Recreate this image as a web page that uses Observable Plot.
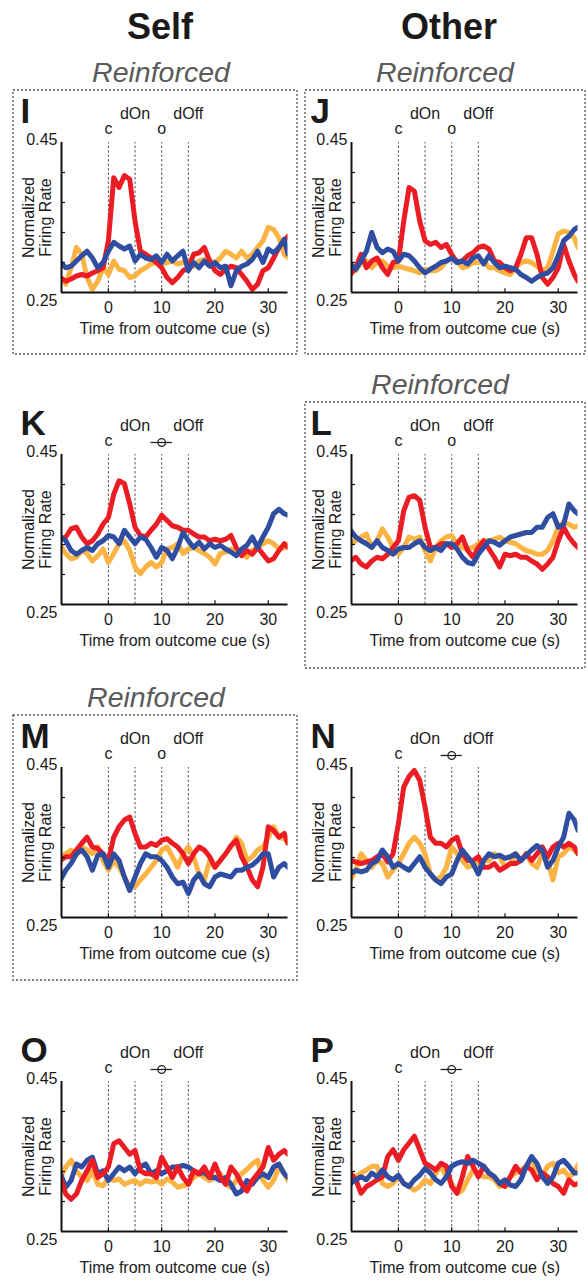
<!DOCTYPE html>
<html><head><meta charset="utf-8">
<script src="https://cdn.jsdelivr.net/npm/d3@7"></script>
<script src="https://cdn.jsdelivr.net/npm/@observablehq/plot@0.6"></script>
<style>
html,body{margin:0;padding:0;background:#fff;}
#page{position:relative;width:588px;height:1281px;overflow:hidden;font-family:"Liberation Sans",Arial,sans-serif;}
#page svg{position:absolute;}
</style></head><body><div id="page"></div><script>
// time axis (s from outcome cue)
const T = [-9,-8,-7,-6,-5,-4,-3,-2,-1,0,1,2,3,4,5,6,7,8,9,10,11,12,13,14,15,16,17,18,19,20,21,22,23,24,25,26,27,28,29,30,31,32,33,33.7];
const xTicks = [0,10,20,30];
const yTickMarks = [0.29,0.33,0.37,0.41];
const yLabelTop = 0.45, yLabelBottom = 0.25;
const eventTimes = [0,5,10,15];
const eventLow = [{t:0,label:"c"},{t:10,label:"o"}];
const eventHigh = [{t:5,label:"dOn"},{t:15,label:"dOff"}];
const xTitle = "Time from outcome cue (s)";
const yTitle = ["Normalized","Firing Rate"];
const columns = ["Self","Other"];
const colors = {red:"#ec1c24", orange:"#fbb443", blue:"#2f4ea1"};

// Panel I (Self, reinforced)
const I_red = [0.270,0.265,0.268,0.272,0.274,0.272,0.276,0.279,0.283,0.319,0.403,0.390,0.406,0.401,0.345,0.305,0.301,0.296,0.290,0.283,0.270,0.263,0.270,0.279,0.283,0.301,0.303,0.310,0.292,0.279,0.274,0.281,0.285,0.283,0.274,0.265,0.254,0.261,0.279,0.283,0.296,0.310,0.319,0.325];
const I_orange = [0.270,0.261,0.283,0.310,0.301,0.270,0.254,0.265,0.283,0.274,0.292,0.281,0.279,0.270,0.272,0.279,0.283,0.288,0.290,0.288,0.290,0.292,0.288,0.290,0.292,0.285,0.292,0.294,0.292,0.290,0.296,0.305,0.301,0.296,0.305,0.296,0.301,0.310,0.319,0.337,0.334,0.323,0.301,0.296];
const I_blue = [0.290,0.283,0.285,0.292,0.299,0.305,0.296,0.283,0.290,0.305,0.317,0.312,0.308,0.312,0.292,0.301,0.296,0.294,0.299,0.290,0.301,0.292,0.299,0.305,0.279,0.290,0.283,0.292,0.285,0.290,0.283,0.285,0.259,0.279,0.285,0.288,0.294,0.305,0.290,0.308,0.303,0.310,0.321,0.301];
// Panel J (Other, reinforced)
const J_red = [0.274,0.283,0.301,0.283,0.292,0.296,0.283,0.274,0.290,0.292,0.345,0.390,0.385,0.345,0.319,0.314,0.317,0.310,0.314,0.301,0.290,0.292,0.299,0.303,0.310,0.312,0.308,0.292,0.290,0.283,0.279,0.283,0.301,0.323,0.323,0.301,0.270,0.261,0.270,0.283,0.314,0.292,0.274,0.265];
const J_orange = [0.283,0.279,0.290,0.292,0.283,0.290,0.292,0.285,0.283,0.285,0.283,0.281,0.279,0.276,0.281,0.279,0.279,0.283,0.292,0.296,0.292,0.283,0.285,0.290,0.290,0.292,0.283,0.283,0.279,0.276,0.274,0.283,0.290,0.292,0.290,0.285,0.279,0.283,0.305,0.328,0.332,0.330,0.323,0.310];
const J_blue = [0.288,0.281,0.292,0.305,0.330,0.310,0.303,0.308,0.305,0.292,0.301,0.299,0.292,0.283,0.276,0.281,0.285,0.290,0.292,0.296,0.290,0.292,0.288,0.296,0.299,0.288,0.299,0.290,0.283,0.285,0.283,0.281,0.274,0.270,0.265,0.270,0.274,0.276,0.283,0.299,0.319,0.325,0.334,0.337];
// Panel K
const K_red = [0.337,0.340,0.351,0.353,0.340,0.331,0.335,0.344,0.357,0.366,0.397,0.415,0.411,0.384,0.353,0.342,0.340,0.349,0.357,0.369,0.362,0.355,0.353,0.349,0.349,0.344,0.340,0.340,0.335,0.337,0.335,0.337,0.342,0.326,0.315,0.322,0.317,0.326,0.317,0.308,0.311,0.322,0.331,0.326];
const K_orange = [0.329,0.318,0.311,0.313,0.322,0.318,0.308,0.315,0.324,0.306,0.318,0.331,0.335,0.322,0.300,0.291,0.300,0.306,0.300,0.306,0.324,0.326,0.331,0.318,0.324,0.326,0.322,0.318,0.313,0.304,0.318,0.320,0.324,0.322,0.318,0.313,0.322,0.326,0.331,0.335,0.331,0.324,0.326,0.331];
const K_blue = [0.340,0.335,0.322,0.317,0.322,0.326,0.322,0.331,0.335,0.342,0.340,0.331,0.349,0.340,0.331,0.340,0.337,0.326,0.313,0.326,0.322,0.311,0.326,0.346,0.335,0.326,0.333,0.324,0.331,0.326,0.329,0.324,0.320,0.315,0.324,0.329,0.340,0.326,0.340,0.353,0.371,0.377,0.371,0.369];
// Panel L
const L_red = [0.308,0.313,0.304,0.300,0.308,0.313,0.311,0.317,0.326,0.335,0.375,0.393,0.395,0.389,0.353,0.326,0.326,0.331,0.331,0.326,0.331,0.340,0.322,0.313,0.326,0.335,0.324,0.313,0.300,0.317,0.315,0.317,0.313,0.313,0.308,0.304,0.297,0.304,0.313,0.335,0.353,0.340,0.331,0.326];
const L_orange = [0.331,0.335,0.340,0.344,0.326,0.335,0.351,0.340,0.326,0.317,0.326,0.340,0.337,0.340,0.322,0.308,0.326,0.335,0.340,0.342,0.331,0.326,0.324,0.326,0.331,0.335,0.335,0.337,0.340,0.335,0.333,0.331,0.326,0.322,0.320,0.317,0.317,0.322,0.335,0.353,0.360,0.357,0.353,0.355];
const L_blue = [0.349,0.340,0.335,0.331,0.326,0.335,0.326,0.322,0.317,0.324,0.326,0.326,0.331,0.335,0.326,0.322,0.326,0.322,0.331,0.331,0.324,0.313,0.306,0.304,0.317,0.326,0.335,0.333,0.329,0.335,0.340,0.342,0.344,0.346,0.346,0.353,0.353,0.366,0.371,0.353,0.357,0.384,0.375,0.371];
// Panel M
const M_red = [0.326,0.331,0.331,0.340,0.349,0.357,0.344,0.342,0.335,0.326,0.357,0.371,0.380,0.384,0.362,0.344,0.344,0.349,0.346,0.353,0.355,0.349,0.344,0.335,0.322,0.335,0.344,0.340,0.331,0.317,0.326,0.335,0.346,0.353,0.331,0.317,0.300,0.291,0.317,0.371,0.366,0.357,0.362,0.349];
const M_orange = [0.331,0.335,0.340,0.333,0.344,0.340,0.335,0.344,0.326,0.313,0.326,0.317,0.304,0.291,0.291,0.300,0.308,0.317,0.326,0.340,0.344,0.331,0.317,0.335,0.344,0.331,0.308,0.300,0.326,0.317,0.326,0.335,0.344,0.357,0.349,0.326,0.331,0.340,0.344,0.357,0.371,0.357,0.355,0.349];
const M_blue = [0.300,0.313,0.322,0.335,0.340,0.331,0.313,0.333,0.335,0.317,0.335,0.326,0.304,0.286,0.304,0.322,0.335,0.331,0.331,0.326,0.317,0.304,0.295,0.297,0.282,0.300,0.308,0.295,0.291,0.304,0.308,0.306,0.304,0.313,0.313,0.317,0.320,0.326,0.335,0.335,0.304,0.317,0.322,0.317];
// Panel N
const N_red = [0.326,0.324,0.322,0.324,0.326,0.331,0.335,0.324,0.335,0.375,0.424,0.438,0.446,0.433,0.397,0.357,0.349,0.349,0.344,0.353,0.357,0.335,0.326,0.326,0.331,0.317,0.317,0.322,0.313,0.317,0.322,0.322,0.326,0.335,0.326,0.335,0.344,0.331,0.344,0.349,0.344,0.349,0.344,0.335];
const N_orange = [0.300,0.313,0.335,0.326,0.317,0.326,0.322,0.304,0.313,0.322,0.335,0.349,0.357,0.349,0.335,0.308,0.300,0.304,0.317,0.344,0.335,0.326,0.317,0.320,0.324,0.326,0.326,0.335,0.331,0.317,0.322,0.335,0.326,0.335,0.322,0.317,0.335,0.326,0.300,0.331,0.335,0.344,0.340,0.335];
const N_blue = [0.308,0.313,0.311,0.313,0.322,0.326,0.340,0.331,0.317,0.322,0.317,0.313,0.322,0.331,0.317,0.308,0.300,0.295,0.304,0.308,0.326,0.340,0.331,0.322,0.308,0.326,0.335,0.331,0.333,0.329,0.331,0.335,0.326,0.333,0.340,0.346,0.340,0.317,0.326,0.344,0.357,0.389,0.380,0.366];
// Panel O
const O_red = [0.322,0.300,0.293,0.300,0.318,0.331,0.345,0.322,0.327,0.336,0.367,0.371,0.362,0.353,0.358,0.331,0.327,0.327,0.322,0.349,0.336,0.322,0.336,0.322,0.313,0.331,0.327,0.336,0.322,0.340,0.322,0.313,0.336,0.327,0.313,0.304,0.318,0.327,0.336,0.362,0.345,0.353,0.358,0.353];
const O_orange = [0.322,0.336,0.345,0.331,0.322,0.318,0.331,0.313,0.311,0.322,0.318,0.320,0.313,0.316,0.318,0.313,0.318,0.316,0.318,0.313,0.320,0.316,0.309,0.311,0.313,0.322,0.327,0.322,0.318,0.322,0.327,0.313,0.309,0.318,0.327,0.333,0.340,0.345,0.318,0.309,0.318,0.336,0.327,0.318];
const O_blue = [0.327,0.309,0.318,0.340,0.336,0.345,0.349,0.327,0.331,0.318,0.327,0.336,0.331,0.336,0.327,0.336,0.340,0.327,0.331,0.327,0.331,0.336,0.336,0.338,0.336,0.331,0.327,0.329,0.322,0.322,0.318,0.322,0.313,0.300,0.304,0.318,0.313,0.322,0.327,0.322,0.336,0.340,0.327,0.322];
// Panel P
const P_red = [0.328,0.319,0.301,0.310,0.314,0.319,0.323,0.350,0.359,0.345,0.359,0.368,0.377,0.359,0.341,0.337,0.332,0.341,0.337,0.310,0.301,0.323,0.350,0.337,0.323,0.337,0.328,0.323,0.314,0.310,0.323,0.337,0.328,0.337,0.332,0.319,0.328,0.323,0.314,0.310,0.301,0.319,0.312,0.314];
const P_orange = [0.314,0.323,0.328,0.332,0.337,0.337,0.314,0.310,0.314,0.323,0.314,0.310,0.305,0.310,0.319,0.314,0.328,0.337,0.323,0.314,0.301,0.305,0.319,0.332,0.328,0.323,0.323,0.319,0.310,0.314,0.323,0.328,0.332,0.337,0.345,0.332,0.323,0.337,0.341,0.328,0.332,0.323,0.328,0.339];
const P_blue = [0.314,0.319,0.323,0.319,0.328,0.323,0.332,0.323,0.319,0.325,0.314,0.310,0.319,0.325,0.334,0.328,0.319,0.314,0.323,0.337,0.341,0.343,0.341,0.345,0.341,0.337,0.328,0.323,0.314,0.319,0.312,0.310,0.319,0.337,0.350,0.341,0.323,0.314,0.323,0.341,0.345,0.337,0.328,0.328];

const panels = [
  {letter:"I", col:0, row:0, outcome:"text", red:I_red, orange:I_orange, blue:I_blue, order:["orange","red","blue"]},
  {letter:"J", col:1, row:0, outcome:"text", red:J_red, orange:J_orange, blue:J_blue, order:["orange","red","blue"]},
  {letter:"K", col:0, row:1, outcome:"bar", red:K_red, orange:K_orange, blue:K_blue, order:["orange","red","blue"]},
  {letter:"L", col:1, row:1, outcome:"text", red:L_red, orange:L_orange, blue:L_blue, order:["orange","red","blue"]},
  {letter:"M", col:0, row:2, outcome:"text", red:M_red, orange:M_orange, blue:M_blue, order:["orange","red","blue"]},
  {letter:"N", col:1, row:2, outcome:"bar", red:N_red, orange:N_orange, blue:N_blue, order:["orange","red","blue"]},
  {letter:"O", col:0, row:3, outcome:"bar", red:O_red, orange:O_orange, blue:O_blue, order:["orange","blue","red"]},
  {letter:"P", col:1, row:3, outcome:"bar", red:P_red, orange:P_orange, blue:P_blue, order:["orange","red","blue"]}
];
// "Reinforced" boxes
const reinforced = [
  {x0:13,y0:90,x1:297,y1:354,tx:161,ty:82},
  {x0:305,y0:90,x1:585,y1:354,tx:445,ty:82},
  {x0:305,y0:402,x1:585,y1:668,tx:440,ty:394},
  {x0:13,y0:715,x1:297,y1:980,tx:156,ty:707}
];

const page = document.getElementById("page");
const FONT = "'Liberation Sans', Arial, sans-serif";

const ns = "http://www.w3.org/2000/svg";
const ov = document.createElementNS(ns,"svg");
ov.setAttribute("width",588); ov.setAttribute("height",1281);
ov.style.left="0px"; ov.style.top="0px";
function addText(x,y,txt,attrs){const t=document.createElementNS(ns,"text");t.setAttribute("x",x);t.setAttribute("y",y);t.setAttribute("text-anchor","middle");for(const k in attrs)t.setAttribute(k,attrs[k]);t.textContent=txt;ov.appendChild(t);}
addText(160,39,columns[0],{"font-family":FONT,"font-size":36,"font-weight":"bold",fill:"#1a1a1a"});
addText(449,39,columns[1],{"font-family":FONT,"font-size":36,"font-weight":"bold",fill:"#1a1a1a"});
for(const r of reinforced){
  const rc=document.createElementNS(ns,"rect");
  rc.setAttribute("x",r.x0);rc.setAttribute("y",r.y0);rc.setAttribute("width",r.x1-r.x0);rc.setAttribute("height",r.y1-r.y0);
  rc.setAttribute("fill","none");rc.setAttribute("stroke","#555");rc.setAttribute("stroke-width",1.3);rc.setAttribute("stroke-dasharray","2,2");
  ov.appendChild(rc);
  addText(r.tx,r.ty,"Reinforced",{"font-family":FONT,"font-size":28.5,"font-style":"italic",fill:"#5a5a5a"});
}
page.appendChild(ov);

const xd = [-8.8, 33.7];
const yd = [0.25, 0.45];
const rowTop = [82, 394, 707, 1021];
const colLeft = [0, 290];
const W = 296, H = 260;

for (const p of panels) {
  const lines = p.order.map(k => Plot.line(T.map((t,i)=>({t, v:p[k][i]})), {
    x:"t", y:"v", stroke: colors[k], strokeWidth: 5, strokeLinejoin:"round", clip:true
  }));
  const outcomeMarks = p.outcome === "text"
    ? [Plot.text(eventLow, {x:"t", y:()=>yd[1], text:"label", dy:-9, lineAnchor:"bottom", fontSize:16})]
    : [Plot.text(eventLow.filter(d=>d.label!=="o"), {x:"t", y:()=>yd[1], text:"label", dy:-9, lineAnchor:"bottom", fontSize:16}),
       Plot.ruleY([yd[1]], {x1:8, x2:12, dy:-12, stroke:"#222", strokeWidth:1.3}),
       Plot.dot([10], {x:d=>d, y:()=>yd[1], dy:-12, r:3.8, stroke:"#222", fill:"none", strokeWidth:1.3})];
  const chart = Plot.plot({
    width: W, height: H,
    marginLeft: 61, marginRight: W - 61 - 226.5, marginTop: 60, marginBottom: 50,
    x: {domain: xd, axis: null},
    y: {domain: yd, axis: null},
    style: {fontFamily: FONT, fontSize: "16px", color: "#1a1a1a", background: "transparent", overflow: "visible"},
    marks: [
      Plot.ruleX(eventTimes, {x:d=>d, y1:yd[0], y2:yd[1], stroke:"#555", strokeWidth:1, strokeDasharray:"2.5,2"}),
      ...lines,
      Plot.ruleY(yTickMarks, {y:d=>d, x1:xd[0], x2:xd[0]+0.75, stroke:"#111", strokeWidth:1.2}),
      Plot.ruleX(xTicks, {x:d=>d, y1:yd[0], y2:yd[0]+0.005, stroke:"#111", strokeWidth:1.2}),
      Plot.ruleX([xd[0]], {x:d=>d, y1:yd[0], y2:yd[1], stroke:"#111", strokeWidth:2}),
      Plot.ruleY([yd[0]], {y:d=>d, x1:xd[0], x2:xd[1], stroke:"#111", strokeWidth:2}),
      Plot.text([yLabelTop], {x:()=>xd[0], y:d=>d, text:d=>d.toFixed(2), dx:-4, dy:2, textAnchor:"end", lineAnchor:"bottom", fontSize:16}),
      Plot.text([yLabelBottom], {x:()=>xd[0], y:d=>d, text:d=>d.toFixed(2), dx:-4, dy:13, textAnchor:"end", lineAnchor:"bottom", fontSize:16}),
      Plot.text(xTicks, {x:d=>d, y:()=>yd[0], text:d=>String(d), dy:20.5, lineAnchor:"bottom", fontSize:16}),
      Plot.text([xTitle], {x:()=>(xd[0]+xd[1])/2, y:()=>yd[0], text:d=>d, dy:41, lineAnchor:"bottom", fontSize:16}),
      Plot.text([yTitle[0]], {x:()=>xd[0], y:()=>(yd[0]+yd[1])/2, text:d=>d, dx:-28, rotate:-90, lineAnchor:"bottom", fontSize:16}),
      Plot.text([yTitle[1]], {x:()=>xd[0], y:()=>(yd[0]+yd[1])/2, text:d=>d, dx:-11, rotate:-90, lineAnchor:"bottom", fontSize:16}),
      Plot.text(eventHigh, {x:"t", y:()=>yd[1], text:"label", dy:-24, lineAnchor:"bottom", fontSize:16}),
      ...outcomeMarks,
      Plot.text([p.letter], {x:()=>xd[0], y:()=>yd[1], text:d=>d, dx:-41, dy:-20, textAnchor:"start", lineAnchor:"bottom", fontSize:35, fontWeight:"bold"})
    ]
  });
  chart.style.left = colLeft[p.col] + "px";
  chart.style.top = rowTop[p.row] + "px";
  chart.style.maxWidth = "none";
  page.appendChild(chart);
}
</script></body></html>
